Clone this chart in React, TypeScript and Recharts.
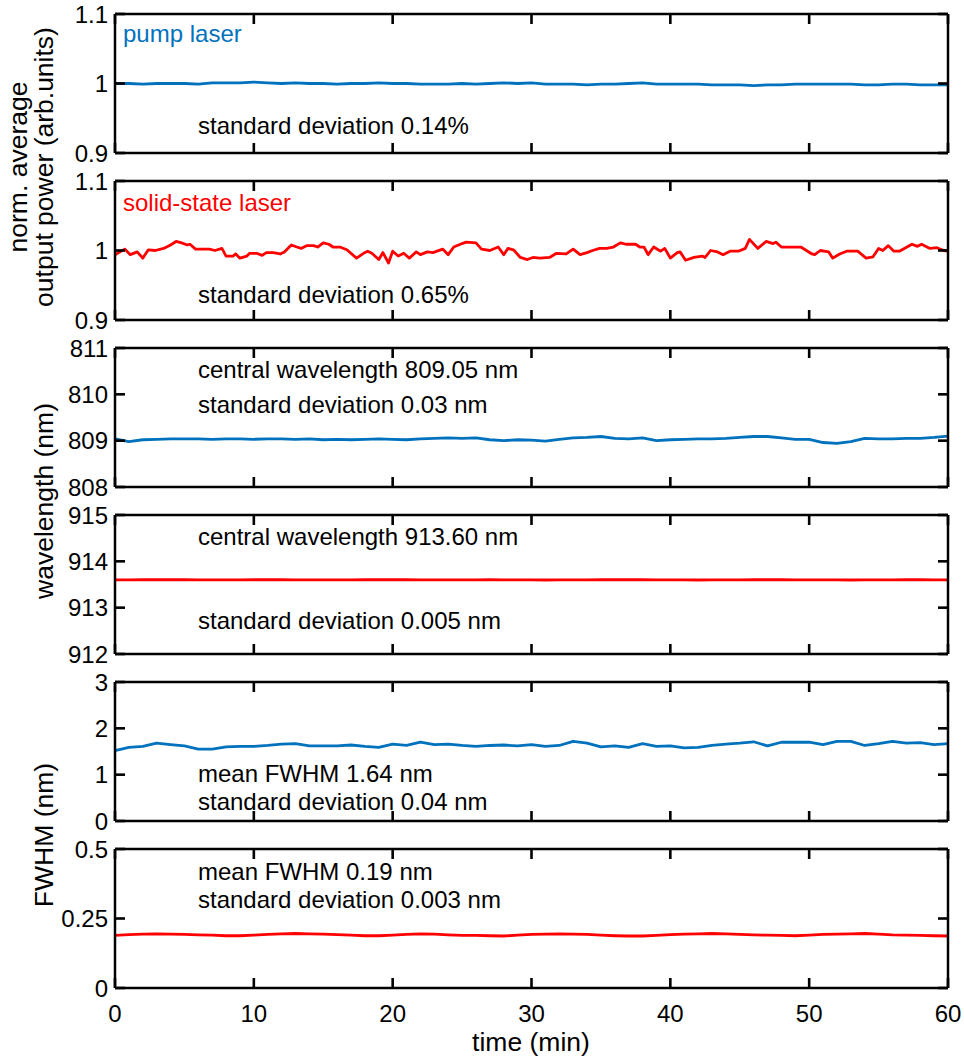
import { LineChart, Line, XAxis, YAxis } from 'recharts';

const FONT = '"Liberation Sans", Arial, Helvetica, sans-serif';
const BLUE = '#0072BD';
const RED = '#FF0000';

// sampling grid (min) for the smoother traces
const minutes = [
  0, 1, 2, 3, 4, 5, 6, 7, 8, 9, 10, 11, 12, 13, 14, 15, 16, 17, 18, 19, 20,
  21, 22, 23, 24, 25, 26, 27, 28, 29, 30, 31, 32, 33, 34, 35, 36, 37, 38, 39, 40,
  41, 42, 43, 44, 45, 46, 47, 48, 49, 50, 51, 52, 53, 54, 55, 56, 57, 58, 59, 60,
];
const timeTicks = [0, 10, 20, 30, 40, 50, 60];

// panel 1: pump laser, normalized power
const pumpPower = [
  1.000, 1.000, 0.999, 1.000, 1.000, 1.000, 0.999, 1.001, 1.001, 1.001,
  1.002, 1.001, 1.000, 1.001, 1.000, 1.000, 0.999, 1.000, 1.000, 1.001,
  1.000, 1.000, 0.999, 0.999, 0.999, 1.000, 0.999, 1.000, 1.001, 1.000,
  1.001, 0.999, 0.999, 0.999, 0.998, 0.999, 0.999, 1.000, 1.001, 0.999,
  0.999, 0.999, 0.999, 0.998, 0.998, 0.998, 0.997, 0.998, 0.998, 0.999,
  0.999, 0.999, 0.999, 0.999, 0.998, 0.998, 0.999, 0.999, 0.998, 0.998,
  0.998,
];

// panel 2: solid-state laser, normalized power (read at irregular times)
const ssPowerTime = [
  0, 0.7, 1.1, 1.6, 2.0, 2.4, 2.9, 3.5, 4.0, 4.4,
  4.8, 5.2, 5.4, 5.8, 6.8, 7.2, 7.7, 8.0, 8.5, 8.7,
  9.0, 9.5, 9.7, 10.2, 10.6, 10.9, 11.4, 11.9, 12.2, 12.7,
  13.1, 13.4, 13.8, 14.3, 14.6, 15.0, 15.4, 15.7, 16.2, 16.7,
  17.4, 17.9, 18.2, 18.5, 19.0, 19.3, 19.7, 20.0, 20.4, 20.8,
  21.2, 21.7, 22.0, 22.5, 22.9, 23.6, 24.0, 24.4, 25.0, 25.3,
  26.0, 26.4, 27.0, 27.6, 28.0, 28.3, 28.7, 29.2, 29.7, 30.1,
  30.6, 31.3, 31.8, 32.5, 33.0, 33.5, 34.0, 34.4, 34.9, 35.4,
  35.9, 36.4, 36.8, 37.5, 37.8, 38.1, 38.4, 38.8, 39.3, 39.6,
  40.0, 40.5, 40.7, 41.1, 41.7, 42.3, 42.5, 42.9, 43.4, 43.8,
  44.3, 44.9, 45.4, 45.7, 46.3, 46.9, 47.4, 47.6, 48.0, 49.4,
  50.2, 50.4, 50.8, 51.4, 51.7, 52.2, 52.7, 53.5, 54.1, 54.6,
  55.0, 55.3, 55.7, 56.1, 56.5, 57.4, 57.8, 58.1, 58.7, 59.2,
  59.7, 60.0,
];
const ssPower = [
  0.994, 1.002, 0.994, 0.998, 0.989, 1.001, 1.000, 1.003, 1.008, 1.013,
  1.011, 1.008, 1.009, 1.002, 1.002, 1.000, 1.003, 0.992, 0.992, 0.995,
  0.989, 0.992, 0.996, 0.996, 0.993, 0.997, 0.997, 0.995, 0.998, 1.008,
  1.005, 1.003, 1.007, 1.007, 1.005, 1.011, 1.009, 1.005, 1.005, 1.001,
  0.989, 0.996, 0.999, 0.996, 0.987, 0.997, 0.982, 0.999, 0.992, 0.996,
  0.989, 0.998, 0.994, 0.998, 0.997, 1.002, 0.994, 1.005, 1.010, 1.012,
  1.011, 1.002, 1.000, 1.005, 0.994, 1.003, 1.001, 0.990, 0.987, 0.990,
  0.989, 0.990, 0.996, 0.995, 1.002, 0.994, 0.997, 1.000, 1.003, 1.003,
  1.005, 1.011, 1.009, 1.009, 1.005, 1.005, 0.994, 1.005, 0.999, 1.003,
  0.989, 0.997, 0.998, 0.986, 0.990, 0.992, 0.990, 1.000, 0.998, 0.994,
  0.999, 0.999, 1.003, 1.016, 1.003, 1.013, 1.010, 1.012, 1.005, 1.005,
  0.995, 0.994, 1.000, 0.998, 0.989, 0.995, 0.999, 0.999, 0.989, 0.991,
  1.003, 1.000, 1.007, 0.999, 0.999, 1.009, 1.006, 1.009, 1.003, 1.004,
  1.000, 0.999,
];

// panel 3: pump laser wavelength (nm)
const pumpWavelength = [
  809.04, 808.98, 809.02, 809.03, 809.04, 809.04, 809.04, 809.03, 809.04, 809.04,
  809.03, 809.04, 809.04, 809.03, 809.04, 809.02, 809.03, 809.02, 809.03, 809.04,
  809.03, 809.02, 809.04, 809.05, 809.06, 809.05, 809.06, 809.02, 809.00, 809.02,
  809.01, 808.99, 809.03, 809.06, 809.07, 809.09, 809.05, 809.04, 809.06, 809.00,
  809.02, 809.03, 809.04, 809.04, 809.05, 809.07, 809.09, 809.09, 809.06, 809.03,
  809.03, 808.96, 808.94, 808.98, 809.05, 809.04, 809.04, 809.05, 809.05, 809.07,
  809.10,
];

// panel 4: solid-state laser wavelength (nm)
const ssWavelength = [
  913.600, 913.601, 913.602, 913.603, 913.603, 913.602, 913.601, 913.600, 913.600, 913.601,
  913.602, 913.603, 913.602, 913.601, 913.599, 913.598, 913.599, 913.600, 913.602, 913.603,
  913.603, 913.602, 913.600, 913.599, 913.599, 913.600, 913.601, 913.602, 913.601, 913.600,
  913.598, 913.597, 913.598, 913.600, 913.601, 913.602, 913.603, 913.603, 913.602, 913.600,
  913.599, 913.598, 913.597, 913.598, 913.599, 913.601, 913.602, 913.603, 913.602, 913.601,
  913.600, 913.599, 913.598, 913.597, 913.598, 913.600, 913.601, 913.602, 913.602, 913.601,
  913.601,
];

// panel 5: pump laser FWHM (nm)
const pumpFwhm = [
  1.52, 1.59, 1.61, 1.68, 1.65, 1.62, 1.55, 1.55, 1.60, 1.61,
  1.61, 1.63, 1.66, 1.67, 1.62, 1.62, 1.62, 1.64, 1.61, 1.59,
  1.66, 1.63, 1.70, 1.65, 1.66, 1.63, 1.61, 1.63, 1.64, 1.62,
  1.65, 1.61, 1.63, 1.72, 1.68, 1.60, 1.62, 1.59, 1.67, 1.61,
  1.62, 1.58, 1.59, 1.63, 1.66, 1.68, 1.71, 1.62, 1.70, 1.70,
  1.70, 1.65, 1.72, 1.72, 1.63, 1.67, 1.72, 1.68, 1.69, 1.65,
  1.67,
];

// panel 6: solid-state laser FWHM (nm)
const ssFwhm = [
  0.189, 0.192, 0.194, 0.195, 0.194, 0.193, 0.191, 0.190, 0.188, 0.188,
  0.190, 0.193, 0.195, 0.196, 0.195, 0.194, 0.192, 0.190, 0.188, 0.188,
  0.190, 0.193, 0.195, 0.194, 0.191, 0.189, 0.189, 0.188, 0.187, 0.190,
  0.193, 0.194, 0.195, 0.194, 0.193, 0.190, 0.188, 0.187, 0.187, 0.189,
  0.192, 0.194, 0.195, 0.196, 0.195, 0.193, 0.191, 0.190, 0.189, 0.188,
  0.190, 0.193, 0.194, 0.195, 0.196, 0.194, 0.191, 0.190, 0.189, 0.188,
  0.187,
];

const PLOT_LEFT = 115;
const PLOT_RIGHT = 948;
const PANEL_H = 139;
const WIDTH = 964;
const TICK_LEN = 10;

const axisStyle = { stroke: '#000', strokeWidth: 2.5 };
const tickStyle = { stroke: '#000', strokeWidth: 2.6 };
const tickText = { fill: '#000', fontSize: 24, fontFamily: FONT };

const toRows = (t: number[], v: number[]) => t.map((x, i) => ({ t: x, v: v[i] }));

type PanelProps = {
  top: number;
  rows: { t: number; v: number }[];
  domain: [number, number];
  ticks: number[];
  color: string;
  last?: boolean;
};

// the inward tick marks are drawn by the tick renderers themselves,
// at the coordinates recharts hands them from the axis scales
function Panel({ top, rows, domain, ticks, color, last }: PanelProps) {
  const mt = 20;
  const mb = last ? 80 : 20;
  const plotBottom = mt + PANEL_H;

  const leftTick = (p: any) => (
    <g>
      <line x1={PLOT_LEFT} y1={p.y} x2={PLOT_LEFT + TICK_LEN} y2={p.y} {...tickStyle} />
      <text x={PLOT_LEFT - 7} y={p.y} dy="0.355em" textAnchor="end" style={tickText}>
        {p.payload.value}
      </text>
    </g>
  );
  const rightTick = (p: any) => (
    <line x1={PLOT_RIGHT - TICK_LEN} y1={p.y} x2={PLOT_RIGHT} y2={p.y} {...tickStyle} />
  );
  const topTick = (p: any) => (
    <line x1={p.x} y1={mt} x2={p.x} y2={mt + TICK_LEN} {...tickStyle} />
  );
  const bottomTick = (p: any) => (
    <g>
      <line x1={p.x} y1={plotBottom - TICK_LEN} x2={p.x} y2={plotBottom} {...tickStyle} />
      {last && (
        <text x={p.x} y={plotBottom + 17} dy="0.71em" textAnchor="middle" style={tickText}>
          {p.payload.value}
        </text>
      )}
    </g>
  );

  return (
    <div style={{ position: 'absolute', left: 0, top: top - mt }}>
      <LineChart
        width={WIDTH}
        height={PANEL_H + mt + mb}
        data={rows}
        margin={{ top: mt, right: WIDTH - PLOT_RIGHT, bottom: mb, left: PLOT_LEFT }}
      >
        <XAxis
          xAxisId="b"
          dataKey="t"
          type="number"
          domain={[0, 60]}
          ticks={timeTicks}
          interval={0}
          height={1}
          mirror
          axisLine={axisStyle}
          tickLine={false}
          tick={bottomTick}
        />
        <XAxis
          xAxisId="t"
          dataKey="t"
          type="number"
          orientation="top"
          domain={[0, 60]}
          ticks={timeTicks}
          interval={0}
          height={1}
          mirror
          axisLine={axisStyle}
          tickLine={false}
          tick={topTick}
        />
        <YAxis
          yAxisId="l"
          type="number"
          domain={domain}
          ticks={ticks}
          interval={0}
          width={1}
          mirror
          axisLine={axisStyle}
          tickLine={false}
          tick={leftTick}
        />
        <YAxis
          yAxisId="r"
          type="number"
          orientation="right"
          domain={domain}
          ticks={ticks}
          interval={0}
          width={1}
          mirror
          axisLine={axisStyle}
          tickLine={false}
          tick={rightTick}
        />
        <Line
          xAxisId="b"
          yAxisId="l"
          dataKey="v"
          type="linear"
          stroke={color}
          strokeWidth={2.8}
          strokeLinejoin="round"
          dot={false}
          isAnimationActive={false}
        />
        <Line
          xAxisId="t"
          yAxisId="r"
          dataKey="v"
          stroke="none"
          dot={false}
          isAnimationActive={false}
        />
      </LineChart>
    </div>
  );
}

const note = { fontFamily: FONT, fontSize: 24, fill: '#000' };
const axisTitle = { fontFamily: FONT, fontSize: 26.5, fill: '#000' };

export default function App() {
  return (
    <div style={{ position: 'absolute', left: 0, top: 0, width: WIDTH, height: 1059, background: '#fff' }}>
      <Panel top={14} rows={toRows(minutes, pumpPower)} domain={[0.9, 1.1]} ticks={[0.9, 1, 1.1]} color={BLUE} />
      <Panel top={181} rows={toRows(ssPowerTime, ssPower)} domain={[0.9, 1.1]} ticks={[0.9, 1, 1.1]} color={RED} />
      <Panel top={348} rows={toRows(minutes, pumpWavelength)} domain={[808, 811]} ticks={[808, 809, 810, 811]} color={BLUE} />
      <Panel top={515} rows={toRows(minutes, ssWavelength)} domain={[912, 915]} ticks={[912, 913, 914, 915]} color={RED} />
      <Panel top={682} rows={toRows(minutes, pumpFwhm)} domain={[0, 3]} ticks={[0, 1, 2, 3]} color={BLUE} />
      <Panel top={849} rows={toRows(minutes, ssFwhm)} domain={[0, 0.5]} ticks={[0, 0.25, 0.5]} color={RED} last />

      <svg width={WIDTH} height={1059} style={{ position: 'absolute', left: 0, top: 0, pointerEvents: 'none' }}>
        <text x={123} y={42} style={{ ...note, fill: BLUE }}>pump laser</text>
        <text x={198} y={134} style={note}>standard deviation 0.14%</text>

        <text x={123} y={211} style={{ ...note, fill: RED }}>solid-state laser</text>
        <text x={198} y={303} style={note}>standard deviation 0.65%</text>

        <text x={198} y={378} style={note}>central wavelength 809.05 nm</text>
        <text x={198} y={413} style={note}>standard deviation 0.03 nm</text>

        <text x={198} y={545} style={note}>central wavelength 913.60 nm</text>
        <text x={198} y={629} style={note}>standard deviation 0.005 nm</text>

        <text x={198} y={782} style={note}>mean FWHM 1.64 nm</text>
        <text x={198} y={810} style={note}>standard deviation 0.04 nm</text>

        <text x={198} y={880} style={note}>mean FWHM 0.19 nm</text>
        <text x={198} y={908} style={note}>standard deviation 0.003 nm</text>

        <text x={27} y={167} textAnchor="middle" transform="rotate(-90 27 167)" style={axisTitle}>norm. average</text>
        <text x={53} y={167} textAnchor="middle" transform="rotate(-90 53 167)" style={axisTitle}>output power (arb.units)</text>
        <text x={53} y={501} textAnchor="middle" transform="rotate(-90 53 501)" style={axisTitle}>wavelength (nm)</text>
        <text x={53} y={835} textAnchor="middle" transform="rotate(-90 53 835)" style={axisTitle}>FWHM (nm)</text>
        <text x={531} y={1051} textAnchor="middle" style={axisTitle}>time (min)</text>
      </svg>
    </div>
  );
}
